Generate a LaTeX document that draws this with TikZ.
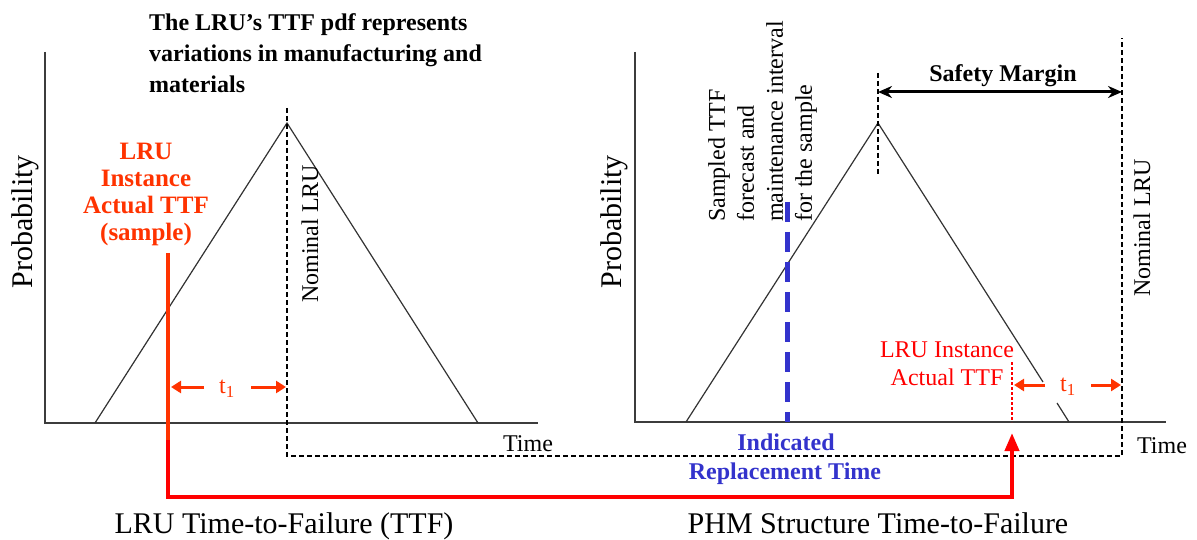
\documentclass[tikz,border=0pt]{standalone}
\usepackage{fontspec}
\setmainfont{Liberation Serif}
\usepackage{xcolor}
\usetikzlibrary{arrows.meta}
\definecolor{lrured}{RGB}{255,51,0}
\definecolor{phmblue}{RGB}{51,51,204}
\definecolor{axisgray}{RGB}{60,60,60}

\begin{document}
\begin{tikzpicture}[x=1pt,y=-1pt,inner sep=0pt,
    axis/.style={draw=axisgray,line width=2.2pt},
    pdf/.style={draw=black!80,line width=1.2pt},
    nominal/.style={draw=black,line width=2pt,dash pattern=on 5pt off 3pt},
    tick/.style={draw=lrured,line width=3pt,-{Triangle[length=10pt,width=12pt]}},
    txt/.style={font=\fontsize{24}{29}\selectfont},
    big/.style={font=\fontsize{30}{34}\selectfont},
    hot/.style={font=\bfseries\fontsize{25}{27}\selectfont,text=lrured,align=center}]
                \useasboundingbox (0,0) rectangle (1197,540);
                \fill[white] (0,0) rectangle (1197,540);
                % left pdf
                \coordinate (lo) at (45,423);
                \coordinate (apexL) at (287,123);
                \draw[axis] (45,52) -- (lo) -- (538,423);
                \draw[pdf] (95,423) -- (apexL) -- (478,423);
                % right pdf
                \coordinate (ro) at (635,422);
                \coordinate (apexR) at (878,123);
                \draw[axis] (635,52) -- (ro) -- (1166,422);
                \draw[pdf] (686,422) -- (apexR) -- (1043,382);
                \draw[pdf] (1057,403) -- (1069,422);
                % nominal LRU line, left to right
                \draw[nominal] (287,108) -- (287,456) -- (1122,456) -- (1122,38);
                \draw[nominal] (apexR) ++(0,-50) -- ++(0,102);
                \node[txt,rotate=90] (nomL) at (310,234) {Nominal LRU};
                \node[txt,rotate=90] (nomR) at (1142,228) {Nominal LRU};
                \node[big,rotate=90] (probL) at (25,222) {Probability};
                \node[big,rotate=90] (probR) at (614,222) {Probability};
                \node[txt,anchor=base] (timeL) at (528,451) {Time};
                \node[txt,anchor=base] (timeR) at (1162,453) {Time};
                \node[big,anchor=base] (capL) at (284,533) {LRU Time-to-Failure (TTF)};
                \node[big,anchor=base] (capR) at (878,533) {PHM Structure Time-to-Failure};
                \node[txt,font=\bfseries\fontsize{24}{31}\selectfont,align=left,anchor=north west] (pdfnote) at (149,13)
                    {The LRU’s TTF pdf represents\\variations in manufacturing and\\materials};
                % sample
                \node[hot,anchor=north] (sample) at (146,143) {LRU\\Instance\\Actual TTF\\(sample)};
                \node[txt,text=red,align=center,anchor=north,font=\fontsize{24}{28}\selectfont] (actual) at (947,342)
                    {LRU Instance\\Actual TTF};
                \draw[red,line width=2pt,dash pattern=on 3pt off 2pt] (1012,362) -- (1012,422);
                \coordinate (s0) at (168,253);
                \coordinate (s1) at (168,440);
                \coordinate (hit) at (1012,433);
                \draw[lrured,line width=4pt] (s0) -- (s1);
                \draw[red,line width=4pt,-{Triangle[length=18pt,width=14pt]}] (s1) |- (1012,497) -- (hit);
                % t1 spans
                \node[txt,text=lrured] (t1L) at (227,389) {t\textsubscript{1}};
                \draw[tick] (204,387) -- (171,387);
                \draw[tick] (251,387) -- (286,387);
                \node[txt,text=lrured] (t1R) at (1068,387) {t\textsubscript{1}};
                \draw[tick] (1045,385) -- (1014,385);
                \draw[tick] (1091,385) -- (1121,385);
                % safety margin
                \draw[line width=3pt,{Stealth[length=14pt,width=12pt]}-{Stealth[length=14pt,width=12pt]}] (878,92) -- (1122,92);
                \node[txt,font=\bfseries\fontsize{24}{29}\selectfont] (margin) at (1003,76) {Safety Margin};
                % indicated replacement
                \node[txt,rotate=90,align=left,anchor=north west] (forecast) at (708,222)
                    {Sampled TTF\\forecast and\\maintenance interval\\for the sample};
                \draw[phmblue,line width=5pt,dash pattern=on 20pt off 10pt] (787,202) -- (787,422);
                \node[txt,font=\bfseries\fontsize{24}{29}\selectfont,text=phmblue] (ind) at (786,442) {Indicated};
                \node[txt,font=\bfseries\fontsize{24}{29}\selectfont,text=phmblue] (repl) at (785,474) {Replacement Time};
            \end{tikzpicture}
\end{document}
